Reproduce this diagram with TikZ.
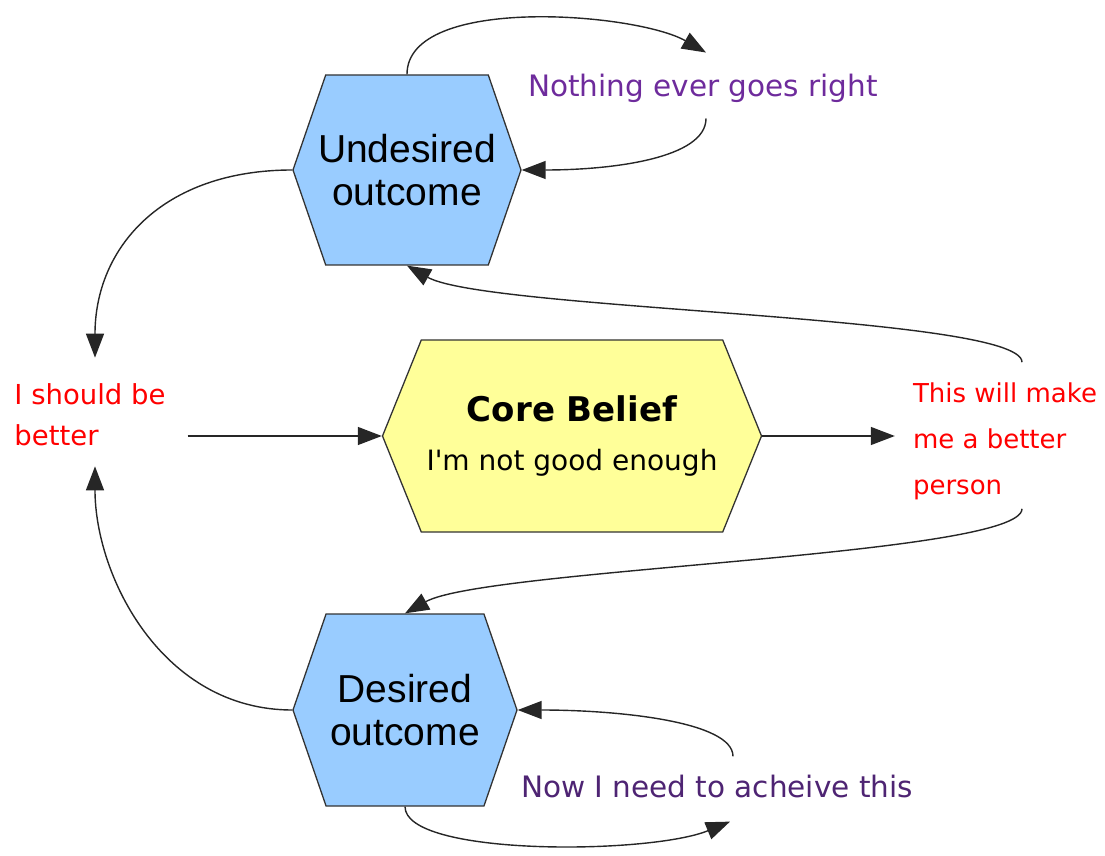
\documentclass[tikz,border=0pt]{standalone}
\usepackage{fontspec}
\setmainfont{Liberation Sans}
\newfontfamily\labelfont{DejaVu Sans}
\usetikzlibrary{shapes.symbols,arrows.meta}
\definecolor{hexblue}{HTML}{99CCFF}
\definecolor{hexyellow}{HTML}{FFFF99}
\definecolor{lblred}{HTML}{FF0000}
\definecolor{lblpurple}{HTML}{6E2B9C}
\definecolor{lbldarkpurple}{HTML}{4E2473}
\tikzset{
  hexa/.style={shape=signal, signal to=west and east, signal pointer angle=142,
    draw=black!80, line width=1.3pt, fill=hexblue, minimum width=228pt, minimum height=190pt,
    inner sep=0pt, align=center, font=\fontsize{39}{43}\selectfont},
  lbl/.style={font=\labelfont\fontsize{29.5}{41}\selectfont, inner sep=2pt},
  conn/.style={draw=black!85, line width=1.4pt, -{Triangle[length=24pt,width=18pt]}},
}
\begin{document}
\begin{tikzpicture}[x=1pt,y=1pt]
	\useasboundingbox (0,0) rectangle (1105,855);
	%==hexagons
	\node[hexa, inner xsep=-8pt] (undesired) at (407,685) {Undesired\\outcome};
	\node[hexa, fill=hexyellow, minimum width=379pt, minimum height=192pt, signal pointer angle=136,
	  font=\labelfont\fontsize{28}{49}\selectfont] (core) at (572,419)
	  {\rule{0pt}{12pt}{\fontsize{34}{49}\selectfont\bfseries Core Belief}\\I'm not good enough};
	\node[hexa, minimum width=224pt, minimum height=192pt] (desired) at (405,145) {Desired\\outcome};
	%==labels
	\node[lbl, text=lblred, align=left, font=\labelfont\fontsize{27.5}{41}\selectfont] (better) at (90,440) {I should be\\better};
	\node[lbl, text=lblred, align=left, font=\labelfont\fontsize{26}{46}\selectfont] (this) at (1005,414) {This will make\\me a better\\person};
	\node[lbl, text=lblpurple] (nothing) at (703,767) {Nothing ever goes right};
	\node[lbl, text=lbldarkpurple] (now) at (717,69) {Now I need to acheive this};
	%==connectors
	\draw[conn] (undesired.north) .. controls +(0,80) and +(-70,40) .. ([xshift=3pt,yshift=19pt]nothing.north);
	\draw[conn] ([xshift=3pt,yshift=-14pt]nothing.south) .. controls +(0,-40) and +(90,0) .. (undesired.east);
	\draw[conn] (undesired.west) .. controls +(-130,0) and +(0,110) .. ([xshift=5pt,yshift=24pt]better.north);
	\draw[conn] (desired.west) .. controls +(-130,0) and +(0,-110) .. ([xshift=5pt,yshift=-18pt]better.south);
	\draw[conn] ([xshift=20pt]better.east |- core.west) -- (core.west);
	\draw[conn] (core.east) -- ([xshift=-16pt]this.west |- core.east);
	\draw[conn] ([xshift=17pt,yshift=18pt]this.north) .. controls +(0,47) and +(80,-45) .. (undesired.south);
	\draw[conn] ([xshift=17pt,yshift=-7pt]this.south) .. controls +(0,-47) and +(80,45) .. (desired.north);
	\draw[conn] (desired.south) .. controls +(0,-50) and +(-80,-33) .. ([xshift=13pt,yshift=-22pt]now.south);
	\draw[conn] ([xshift=16pt,yshift=16pt]now.north) .. controls +(0,35) and +(100,0) .. (desired.east);
\end{tikzpicture}
\end{document}
